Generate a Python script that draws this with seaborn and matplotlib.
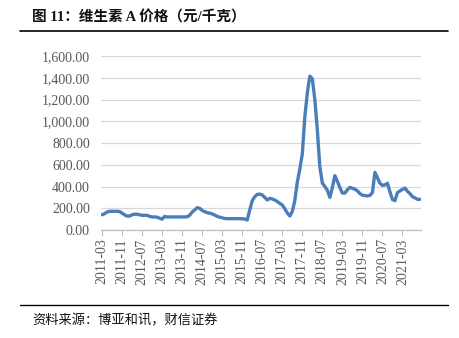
import matplotlib
matplotlib.use("Agg")
import matplotlib.pyplot as plt
import seaborn as sns
import pandas as pd
from matplotlib.lines import Line2D

# Monthly vitamin A price (yuan/kg), 2011-03 .. 2021-10
price = [
    140, 150, 165, 172, 172, 172, 172, 170, 155, 140,
    128, 128, 140, 145, 145, 140, 135, 135, 135, 125,
    120, 120, 118, 108, 100, 125, 120, 120, 120, 120,
    120, 120, 120, 120, 122, 135, 165, 184, 205, 200,
    180, 168, 160, 155, 148, 138, 125, 118, 112, 106,
    104, 104, 104, 104, 104, 104, 104, 100, 92, 184,
    270, 306, 328, 330, 322, 300, 276, 291, 285, 276,
    262, 245, 230, 195, 156, 129, 170, 270, 440, 560,
    700, 1040, 1260, 1415, 1390, 1200, 920, 580, 432, 400,
    365, 300, 390, 500, 448, 390, 340, 340, 370, 392,
    384, 375, 360, 335, 320, 316, 313, 318, 345, 530,
    480, 430, 410, 415, 430, 350, 280, 270, 345, 360,
    374, 385, 355, 335, 306, 295, 282, 282,
]
tick_labels = [
    "2011-03", "2011-11", "2012-07", "2013-03", "2013-11", "2014-07",
    "2015-03", "2015-11", "2016-07", "2017-03", "2017-11", "2018-07",
    "2019-03", "2019-11", "2020-07", "2021-03",
]
y_ticks = [0, 200, 400, 600, 800, 1000, 1200, 1400, 1600]

df = pd.DataFrame({"month": range(len(price)), "price": price})

sns.set_style("white")
plt.rcParams["font.family"] = ["Noto Sans CJK SC", "DejaVu Sans"]

fig = plt.figure(figsize=(4.6, 3.38), dpi=100)
ax = fig.add_axes([101 / 460, 1 - 230 / 338, 320 / 460, 174 / 338])

sns.lineplot(data=df, x="month", y="price", ax=ax, color="#4A7EBB",
             linewidth=2.4, solid_joinstyle="round", solid_capstyle="round")

ax.set_xlim(-0.4, len(price) - 0.6)
ax.set_ylim(0, 1600)
ax.set_yticks(y_ticks)
ax.set_yticklabels([f"{v:,.2f}" for v in y_ticks])
ax.set_xticks(range(0, 8 * len(tick_labels), 8))
ax.set_xticklabels(tick_labels, rotation=90)
ax.set_xlabel("")
ax.set_ylabel("")

ax.grid(axis="y", color="#D9D9D9", linewidth=0.9)
ax.set_axisbelow(True)
for side in ("left", "right", "top"):
    ax.spines[side].set_visible(False)
ax.spines["bottom"].set_color("#BFBFBF")
ax.spines["bottom"].set_linewidth(0.9)

ax.tick_params(axis="y", length=0, pad=8, labelsize=10, labelcolor="#595959")
ax.tick_params(axis="x", length=4, width=0.8, color="#BFBFBF", direction="out",
               pad=2, labelsize=10, labelcolor="#595959", bottom=True)
for lab in ax.get_xticklabels() + ax.get_yticklabels():
    lab.set_family(["Liberation Serif", "DejaVu Serif"])

# Header and footer
fig.text(32 / 460, 1 - 17 / 338, "图 11：维生素 A 价格（元/千克）", fontsize=10.5,
         fontweight="bold", ha="left", va="center", color="#111111",
         family=["Liberation Serif", "Noto Sans CJK SC", "DejaVu Sans"])
fig.add_artist(Line2D([20 / 460, 448 / 460], [1 - 31 / 338, 1 - 31 / 338],
                      color="black", linewidth=1.2, transform=fig.transFigure))
fig.add_artist(Line2D([20 / 460, 448 / 460], [1 - 305 / 338, 1 - 305 / 338],
                      color="black", linewidth=1.0, transform=fig.transFigure))
fig.text(32 / 460, 1 - 321 / 338, "资料来源：博亚和讯，财信证券", fontsize=9.5,
         ha="left", va="center", color="#111111")

fig.savefig("out.png", dpi=100)
